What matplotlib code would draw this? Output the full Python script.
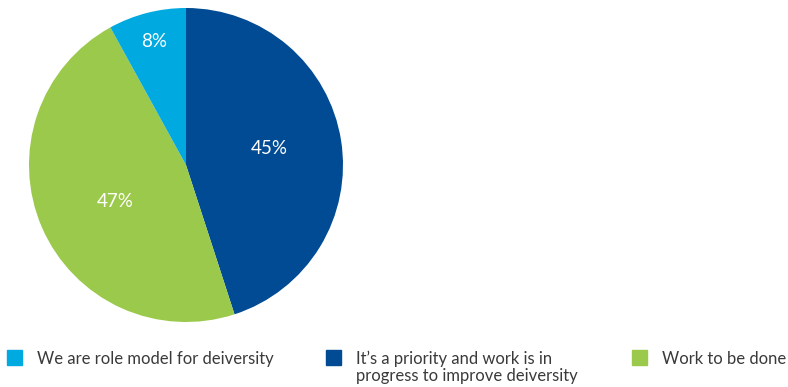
import numpy as np
import matplotlib
matplotlib.use("Agg")
import matplotlib.pyplot as plt
from matplotlib.patches import Rectangle

# Respuestas de la encuesta sobre diversidad
categorias = ["We are role model for deiversity",
              "It\u2019s a priority and work is in\nprogress to improve deiversity",
              "Work to be done"]
valores = [8, 45, 47]
colores = ["#00A9E0", "#004B93", "#9BC94B"]
# distancia radial y giro (grados) de cada etiqueta de porcentaje
dist_etiqueta = [0.81, 0.54, 0.51]
giro_etiqueta = [0, 2, 4]

plt.rcParams["font.family"] = ["Lato", "DejaVu Sans"]

W, H = 788, 387
fig = plt.figure(figsize=(W / 100, H / 100), dpi=100)

# Pastel: centro (186, 165) px, radio 157 px
cx, cy, r = 186, 165, 157
ax = fig.add_axes([(cx - r) / W, (H - cy - r) / H, 2 * r / W, 2 * r / H])

# orden de dibujo: 45% desde arriba en sentido horario, luego 47%, luego 8%
orden = [1, 2, 0]
wedges, _ = ax.pie([valores[i] for i in orden],
                   colors=[colores[i] for i in orden],
                   startangle=90, counterclock=False, radius=1.0,
                   wedgeprops=dict(linewidth=0))
for w, i in zip(wedges, orden):
    ang = np.deg2rad((w.theta1 + w.theta2) / 2 + giro_etiqueta[i])
    d = dist_etiqueta[i]
    ax.text(d * np.cos(ang), d * np.sin(ang), f"{valores[i]}%",
            family=["Lato", "DejaVu Sans"],
            color="white", fontsize=13.5, ha="center", va="center")
ax.set_xlim(-1, 1)
ax.set_ylim(-1, 1)
ax.set_aspect("equal")
ax.axis("off")

# Leyenda manual en la parte inferior
pos_x = [7, 326, 632]
for x, c, txt in zip(pos_x, colores, categorias):
    fig.patches.append(Rectangle((x / W, (H - 365) / H), 15 / W, 15 / H,
                                 transform=fig.transFigure, color=c))
    lineas = txt.split("\n")
    for k, linea in enumerate(lineas):
        fig.text((x + 30) / W, (H - 364 - 16.5 * k) / H, linea,
                 family=["Lato", "DejaVu Sans"],
                 fontsize=12, color="#3a3a3a", ha="left", va="baseline")

fig.savefig("out.png", dpi=100)
